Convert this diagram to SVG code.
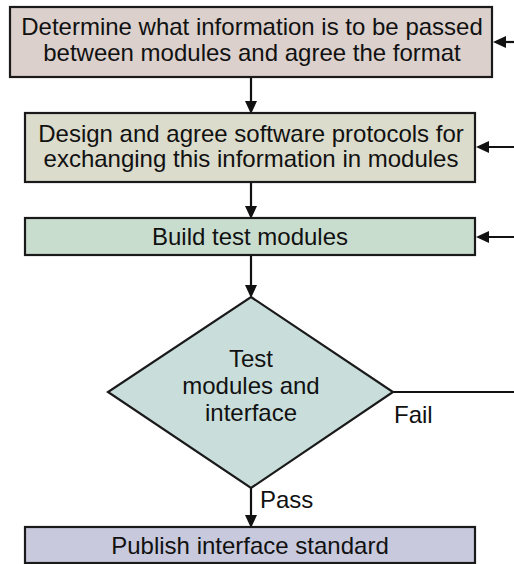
<svg xmlns="http://www.w3.org/2000/svg" width="514" height="564" viewBox="0 0 514 564">
  <style>
    .box { stroke: #1a1a1a; stroke-width: 2.2; }
    .lbl { font-family: "Liberation Sans", Arial, Helvetica, sans-serif; font-size: 24px; fill: #111; text-anchor: middle; }
    .tag { font-family: "Liberation Sans", Arial, Helvetica, sans-serif; font-size: 24px; fill: #111; }
    .wire { stroke: #111; stroke-width: 2.2; fill: none; }
  </style>
  <defs>
    <marker id="head" markerUnits="userSpaceOnUse" markerWidth="14" markerHeight="14" refX="8" refY="6" orient="auto">
      <path d="M0,0 L13,6 L0,12 z" fill="#111"/>
    </marker>
  </defs>

  <rect width="514" height="564" fill="#ffffff"/>

  <g id="connectors">
    <line class="wire" x1="251" y1="77" x2="251" y2="109" marker-end="url(#head)"/>
    <line class="wire" x1="251" y1="182" x2="251" y2="214" marker-end="url(#head)"/>
    <line class="wire" x1="251" y1="255" x2="251" y2="293" marker-end="url(#head)"/>
    <line class="wire" x1="251" y1="488" x2="251" y2="523" marker-end="url(#head)"/>
    <line class="wire" x1="514" y1="42" x2="498" y2="42" marker-end="url(#head)"/>
    <line class="wire" x1="514" y1="147" x2="481" y2="147" marker-end="url(#head)"/>
    <line class="wire" x1="514" y1="237" x2="481" y2="237" marker-end="url(#head)"/>
    <line class="wire" x1="393" y1="392" x2="514" y2="392"/>
    <text class="tag" x="394" y="423">Fail</text>
    <text class="tag" x="260" y="508">Pass</text>
  </g>

  <g id="determine">
    <rect class="box" x="10" y="7" width="482" height="70" fill="#dbd0cc"/>
    <text class="lbl" x="252" y="35">Determine what information is to be passed</text>
    <text class="lbl" x="252" y="61">between modules and agree the format</text>
  </g>

  <g id="design">
    <rect class="box" x="25" y="113" width="450" height="69" fill="#dcdccc"/>
    <text class="lbl" x="251" y="142">Design and agree software protocols for</text>
    <text class="lbl" x="251" y="167">exchanging this information in modules</text>
  </g>

  <g id="build">
    <rect class="box" x="25" y="218" width="450" height="37" fill="#c9ddcf"/>
    <text class="lbl" x="250" y="245">Build test modules</text>
  </g>

  <g id="test">
    <polygon class="box" points="251,297 393,392 251,488 108,392" fill="#c9dedb"/>
    <text class="lbl" x="251" y="367">Test</text>
    <text class="lbl" x="251" y="394">modules and</text>
    <text class="lbl" x="251" y="421">interface</text>
  </g>

  <g id="publish">
    <rect class="box" x="25" y="527" width="450" height="36" fill="#c8c9dd"/>
    <text class="lbl" x="250" y="554">Publish interface standard</text>
  </g>
</svg>
